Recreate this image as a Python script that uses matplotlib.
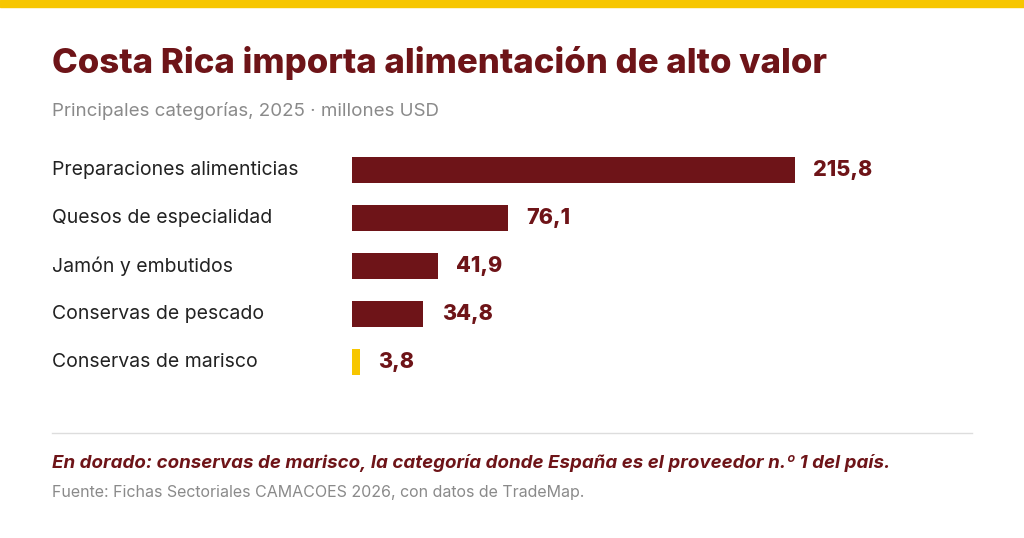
import matplotlib.pyplot as plt
from matplotlib.transforms import blended_transform_factory

categories = ["Preparaciones alimenticias", "Quesos de especialidad", "Jamón y embutidos",
              "Conservas de pescado", "Conservas de marisco"]
values = [215.8, 76.1, 41.9, 34.8, 3.8]
labels = ["215,8", "76,1", "41,9", "34,8", "3,8"]
highlight = "Conservas de marisco"

RED = "#6e1418"
GOLD = "#f7c600"
W, H = 1024, 538

fig = plt.figure(figsize=(W / 100, H / 100), dpi=100)
fig.patch.set_facecolor("white")

# yellow strip at the top
fig.patches.append(plt.Rectangle((0, 1 - 7 / H), 1, 7 / H, transform=fig.transFigure,
                                 color=GOLD, zorder=0))

fig.text(52 / W, 1 - 73 / H, "Costa Rica importa alimentación de alto valor", fontsize=25,
         fontweight="heavy", color=RED, family=["Inter", "DejaVu Sans"], va="baseline")
fig.text(52 / W, 1 - 116 / H, "Principales categorías, 2025 · millones USD", fontsize=13.5,
         color="#8a8a8a", family=["Inter", "DejaVu Sans"], va="baseline")

ax = fig.add_axes([352 / W, 152 / H, 620 / W, 240 / H])
px_per_unit = 443 / 215.8
ax.set_xlim(0, 620 / px_per_unit)
ax.set_ylim(len(categories) - 0.5, -0.5)
ax.axis("off")

colors = [GOLD if c == highlight else RED for c in categories]
ax.barh(range(len(values)), values, height=0.56, color=colors)
trans = blended_transform_factory(fig.transFigure, ax.transData)
for i, (c, v, lab) in enumerate(zip(categories, values, labels)):
    ax.text(52 / W, i, c, transform=trans, fontsize=14, color="#222222",
            family=["Inter", "DejaVu Sans"], va="center")
    ax.text(v + 9, i, lab, fontsize=15.5, fontweight="heavy", color=RED,
            family=["Inter", "DejaVu Sans"], va="center")

fig.add_artist(plt.Line2D([52 / W, 972 / W], [1 - 433 / H] * 2, color="#dddddd", lw=1))
fig.text(52 / W, 1 - 468 / H,
         "En dorado: conservas de marisco, la categoría donde España es el proveedor n.º 1 del país.",
         fontsize=13.5, fontweight="bold", style="italic", color=RED,
         family=["Inter", "DejaVu Sans"], va="baseline")
fig.text(52 / W, 1 - 497 / H, "Fuente: Fichas Sectoriales CAMACOES 2026, con datos de TradeMap.",
         fontsize=11.5, color="#8a8a8a", family=["Inter", "DejaVu Sans"], va="baseline")

fig.savefig("out.png", dpi=100, facecolor="white")
